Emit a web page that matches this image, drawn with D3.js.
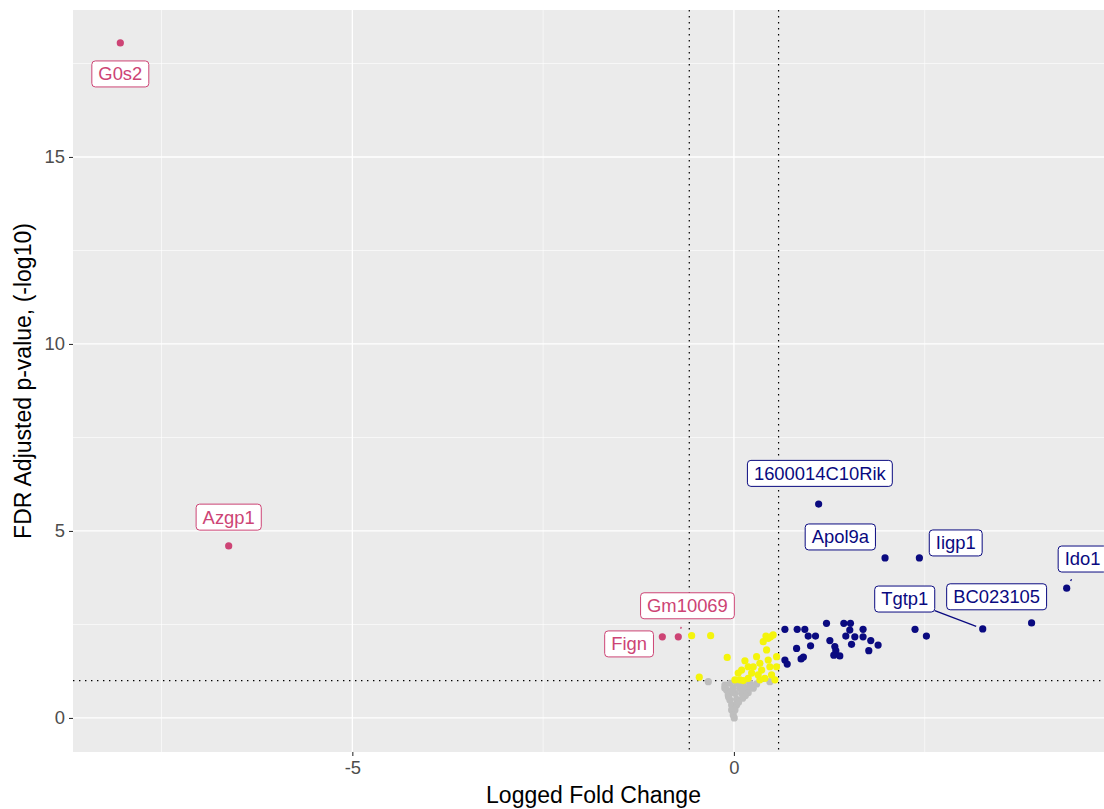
<!DOCTYPE html>
<html>
<head>
<meta charset="utf-8">
<script src="https://cdn.jsdelivr.net/npm/d3@7"></script>
<style>
  html, body { margin: 0; padding: 0; background: #ffffff; }
  svg { display: block; font-family: "Liberation Sans", Arial, Helvetica, sans-serif; }
</style>
</head>
<body>
<svg id="chart" width="1104" height="809"></svg>
<script>
// ---------------- data (logFC, -log10 FDR) ----------------
const grayPoints = [
  [-0.336, 0.971], [0.471, 0.971], [-0.118, 0.882], [-0.052, 0.928], [0.035, 0.928],
  [0.122, 0.928], [0.209, 0.928], [0.297, 0.909], [-0.096, 0.749], [-0.009, 0.794],
  [0.079, 0.794], [0.166, 0.794], [0.253, 0.794], [-0.075, 0.615], [0.013, 0.660],
  [0.101, 0.660], [0.187, 0.676], [-0.052, 0.481], [0.035, 0.500], [0.114, 0.527],
  [-0.030, 0.348], [0.035, 0.348], [-0.030, 0.214], [0.013, 0.214], [-0.009, 0.080],
  [0.004, 0.0], [0.060, 0.420], [-0.070, 0.560], [0.150, 0.600], [-0.120, 0.800],
  [0.220, 0.850], [0.080, 0.880], [-0.020, 0.700], [0.110, 0.740]
];
const yellowPoints = [
  [-0.554, 2.20], [-0.305, 2.20], [-0.088, 1.62], [-0.454, 1.09], [0.144, 1.53],
  [0.101, 1.28], [0.056, 1.20], [0.079, 1.02], [0.013, 1.02], [0.187, 1.37],
  [0.232, 1.20], [0.297, 1.64], [0.340, 1.46], [0.363, 1.28], [0.318, 1.15],
  [0.384, 2.04], [0.449, 2.13], [0.514, 2.22], [0.428, 1.82], [0.449, 1.55],
  [0.471, 1.37], [0.406, 1.06], [0.493, 1.15], [0.559, 1.64], [0.559, 1.37],
  [0.253, 1.37], [0.187, 1.06], [0.122, 1.00], [0.340, 1.02], [0.537, 1.02],
  [0.419, 2.19], [0.480, 2.17]
];
const bluePoints = [
  [0.668, 2.37], [0.829, 2.37], [0.929, 2.37], [0.973, 2.19], [1.069, 2.19],
  [1.213, 2.53], [1.257, 2.07], [1.004, 1.93], [0.821, 1.86], [0.880, 1.58],
  [0.910, 1.63], [0.668, 1.55], [0.698, 1.44], [1.322, 1.91], [1.335, 1.80],
  [1.309, 1.68], [1.387, 1.66], [1.440, 2.53], [1.527, 2.53], [1.518, 2.35],
  [1.466, 2.19], [1.584, 2.17], [1.692, 2.37], [1.692, 2.17], [1.793, 2.07],
  [1.889, 1.95], [1.541, 1.97], [1.767, 1.80], [2.373, 2.37], [2.522, 2.19]
];
const redPoints = [];

// labelled genes: name, logFC, -log10 FDR, group
const geneNames  = ["G0s2", "Azgp1", "Fign", "Gm10069", "1600014C10Rik", "Apol9a", "Iigp1", "Ido1", "BC023105", "Tgtp1"];
const geneFC     = [-8.04, -6.62, -0.938, -0.729, 1.11, 1.98, 2.43, 4.36, 3.90, 3.26];
const geneFDR    = [18.05, 4.60, 2.17, 2.17, 5.72, 4.28, 4.28, 3.47, 2.54, 2.38];
const geneGroup  = ["down", "down", "down", "down", "up", "up", "up", "up", "up", "up"];
// repelled label anchor (data units)
const labelFC    = [-8.04, -6.62, -1.374, -0.609, 1.126, 1.394, 2.906, 4.568, 3.442, 2.238];
const labelFDR   = [17.22, 5.37, 1.98, 3.00, 6.54, 4.84, 4.68, 4.25, 3.24, 3.18];
const segmentFull = ["Tgtp1"];
const segmentStub = ["Ido1", "Gm10069"];

const xTicks = [-5, 0];
const yTicks = [0, 5, 10, 15];
const xMinor = [-7.5, -2.5, 2.5];
const yMinor = [2.5, 7.5, 12.5, 17.5];
const fcCut = 0.585;
const fdrCut = 1;

const colors = { gray: "#BEBEBE", yellow: "#F4F40C", up: "#0A0A80", down: "#CD4475" };

// ---------------- layout ----------------
const svg = d3.select("#chart");
const panel = { left: 73, top: 10, right: 1114, bottom: 752 };

const x = d3.scaleLinear().domain([-8.66, 4.98]).range([panel.left, panel.right]);
const y = d3.scaleLinear().domain([-0.91, 18.93]).range([panel.bottom, panel.top]);

svg.append("rect")
  .attr("x", panel.left).attr("y", panel.top)
  .attr("width", panel.right - panel.left).attr("height", panel.bottom - panel.top)
  .attr("fill", "#EBEBEB");

const grid = svg.append("g");
grid.selectAll(".xminor").data(xMinor).join("line")
  .attr("x1", d => x(d)).attr("x2", d => x(d))
  .attr("y1", panel.top).attr("y2", panel.bottom)
  .attr("stroke", "#fff").attr("stroke-width", 0.6);
grid.selectAll(".yminor").data(yMinor).join("line")
  .attr("y1", d => y(d)).attr("y2", d => y(d))
  .attr("x1", panel.left).attr("x2", panel.right)
  .attr("stroke", "#fff").attr("stroke-width", 0.6);
grid.selectAll(".xmajor").data(xTicks).join("line")
  .attr("x1", d => x(d)).attr("x2", d => x(d))
  .attr("y1", panel.top).attr("y2", panel.bottom)
  .attr("stroke", "#fff").attr("stroke-width", 1.3);
grid.selectAll(".ymajor").data(yTicks).join("line")
  .attr("y1", d => y(d)).attr("y2", d => y(d))
  .attr("x1", panel.left).attr("x2", panel.right)
  .attr("stroke", "#fff").attr("stroke-width", 1.3);

// axes
const xAxis = d3.axisBottom(x).tickValues(xTicks).tickSize(4).tickPadding(5).tickFormat(d3.format("d"));
const gx = svg.append("g").attr("transform", `translate(0,${panel.bottom})`).call(xAxis);
const yAxis = d3.axisLeft(y).tickValues(yTicks).tickSize(4).tickPadding(4).tickFormat(d3.format("d"));
const gy = svg.append("g").attr("transform", `translate(${panel.left},0)`).call(yAxis);
[gx, gy].forEach(g => {
  g.select(".domain").remove();
  g.selectAll(".tick line").attr("stroke", "#333").attr("stroke-width", 1.1);
  g.selectAll(".tick text").attr("fill", "#4D4D4D").attr("font-size", 18.4)
    .attr("font-family", "Liberation Sans, Arial, sans-serif");
});
gx.selectAll(".tick text").text(d => d < 0 ? "-" + Math.abs(d) : d);

// threshold lines
const thr = svg.append("g").attr("stroke", "#000").attr("stroke-width", 1.2)
  .attr("stroke-dasharray", "1.4,4.6").attr("fill", "none");
[-fcCut, fcCut].forEach(v => thr.append("line")
  .attr("x1", x(v)).attr("x2", x(v)).attr("y1", panel.top).attr("y2", panel.bottom));
thr.append("line").attr("x1", panel.left).attr("x2", panel.right)
  .attr("y1", y(fdrCut)).attr("y2", y(fdrCut));

// points
const pts = svg.append("g");
function drawPts(data, color) {
  pts.append("g").selectAll("circle").data(data).join("circle")
    .attr("cx", d => x(d[0])).attr("cy", d => y(d[1])).attr("r", 3.6).attr("fill", color);
}
drawPts(grayPoints, colors.gray);
drawPts(yellowPoints, colors.yellow);
drawPts(bluePoints, colors.up);
drawPts(redPoints, colors.down);
const genes = geneNames.map((n, i) => ({
  name: n, fc: geneFC[i], fdr: geneFDR[i], group: geneGroup[i], lfc: labelFC[i], lfdr: labelFDR[i]
}));
pts.append("g").selectAll("circle").data(genes).join("circle")
  .attr("cx", d => x(d.fc)).attr("cy", d => y(d.fdr)).attr("r", 3.6)
  .attr("fill", d => colors[d.group]);

// labels
const labG = svg.append("g");
const fontSize = 18.4, padX = 6.5, boxH = 26;
genes.forEach(d => {
  const col = colors[d.group];
  const cx = x(d.lfc), cy = y(d.lfdr);
  const g = labG.append("g");
  const t = g.append("text").attr("x", cx).attr("y", cy + fontSize * 0.35)
    .attr("text-anchor", "middle").attr("font-size", fontSize).attr("fill", col)
    .text(d.name);
  const w = t.node().getComputedTextLength() + 2 * padX;
  const px = x(d.fc), py = y(d.fdr);
  const dx = px - cx, dy = py - cy;
  const tx = Math.abs(dx) > 0 ? (w / 2) / Math.abs(dx) : Infinity;
  const ty = Math.abs(dy) > 0 ? (boxH / 2) / Math.abs(dy) : Infinity;
  const t0 = Math.min(tx, ty);
  const len = Math.hypot(dx, dy);
  if (segmentFull.includes(d.name)) {
    const t1 = 1 - 7 / len;
    g.insert("line", "text")
      .attr("x1", cx + dx * t0).attr("y1", cy + dy * t0)
      .attr("x2", cx + dx * t1).attr("y2", cy + dy * t1)
      .attr("stroke", col).attr("stroke-width", 1.3);
  } else if (segmentStub.includes(d.name)) {
    const tm = (t0 + 1) / 2;
    g.insert("line", "text")
      .attr("x1", cx + dx * (tm - 1 / len)).attr("y1", cy + dy * (tm - 1 / len))
      .attr("x2", cx + dx * (tm + 1 / len)).attr("y2", cy + dy * (tm + 1 / len))
      .attr("stroke", col).attr("stroke-width", 1.3);
  }
  g.insert("rect", "text")
    .attr("x", cx - w / 2).attr("y", cy - boxH / 2)
    .attr("width", w).attr("height", boxH)
    .attr("rx", 3.5).attr("ry", 3.5)
    .attr("fill", "#fff").attr("stroke", col).attr("stroke-width", 1);
});

// axis titles
svg.append("text").attr("x", (panel.left + panel.right) / 2).attr("y", 803)
  .attr("text-anchor", "middle").attr("font-size", 23).attr("fill", "#000")
  .text("Logged Fold Change");
svg.append("text")
  .attr("transform", `translate(31,${(panel.top + panel.bottom) / 2}) rotate(-90)`)
  .attr("text-anchor", "middle").attr("font-size", 23).attr("fill", "#000")
  .text("FDR Adjusted p-value, (-log10)");
</script>
</body>
</html>
